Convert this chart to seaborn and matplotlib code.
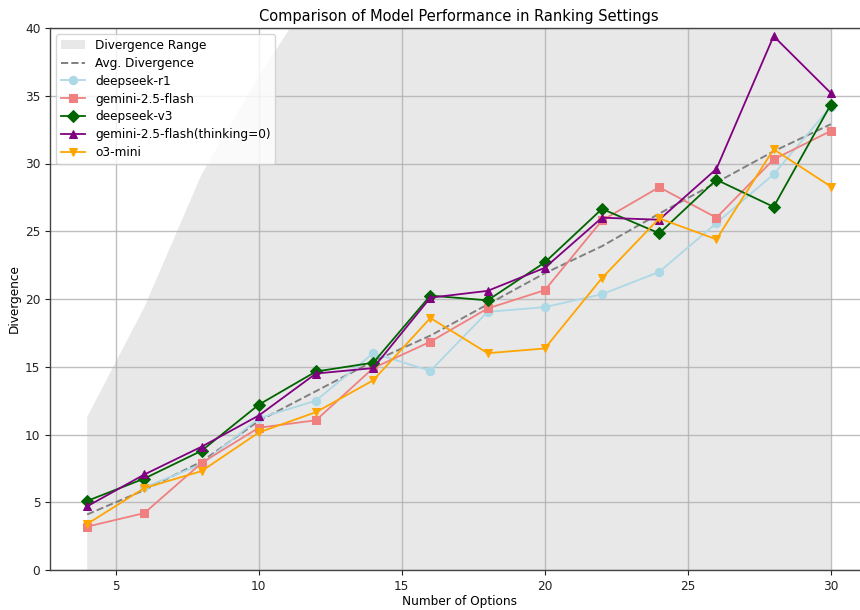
import numpy as np
import pandas as pd
import matplotlib
matplotlib.use("Agg")
import matplotlib.pyplot as plt
import seaborn as sns

# ---- data ----
num_options = [4, 6, 8, 10, 12, 14, 16, 18, 20, 22, 24, 26, 28, 30]
deepseek_r1 = [np.nan, 6.1, 7.8, 11.2, 12.5, 16.0, 14.7, 19.05, 19.4, 20.35, 22.0, 25.6, 29.2, 34.2]
gemini_flash = [3.2, 4.2, 7.9, 10.5, 11.05, 14.9, 16.85, 19.3, 20.65, 25.8, 28.25, 26.0, 30.3, 32.4]
deepseek_v3 = [5.1, 6.75, 8.8, 12.2, 14.65, 15.3, 20.25, 19.9, 22.7, 26.65, 24.85, 28.8, 26.8, 34.35]
gemini_flash_t0 = [4.7, 7.05, 9.1, 11.4, 14.5, 14.9, 20.1, 20.6, 22.3, 26.0, 25.85, 29.6, 39.4, 35.2]
o3_mini = [3.4, 6.05, 7.3, 10.15, 11.65, 14.0, 18.6, 16.0, 16.35, 21.55, 25.95, 24.4, 31.05, 28.3]
avg_divergence = [4.1, 5.9, 8.0, 11.0, 13.2, 15.4, 17.3, 19.6, 21.9, 23.9, 26.3, 28.6, 30.9, 32.9]
range_upper = [11.3, 19.4, 29.2, 36.4, 43.0, 48.5, 54.0, 58.5, 63.0, 68.0, 72.5, 77.0, 82.0, 86.0]
range_lower = [0, 0, 0, 0, 0, 0, 0, 0, 0, 0, 0, 0, 0, 0]

model_names = ["deepseek-r1", "gemini-2.5-flash", "deepseek-v3",
               "gemini-2.5-flash(thinking=0)", "o3-mini"]
model_values = [deepseek_r1, gemini_flash, deepseek_v3, gemini_flash_t0, o3_mini]
model_colors = ["lightblue", "lightcoral", "darkgreen", "purple", "orange"]
model_markers = ["o", "s", "D", "^", "v"]

df = pd.DataFrame({"x": num_options})
for n, v in zip(model_names, model_values):
    df[n] = v

plt.rcParams["font.family"] = ["DejaVu Sans"]
plt.rcParams["font.size"] = 8.75

fig = plt.figure(figsize=(8.6, 6.1), dpi=100)
ax = fig.add_axes([50 / 860, 40 / 610, 818 / 860, 542 / 610])

ax.fill_between(num_options, range_lower, range_upper, color="lightgray",
                alpha=0.5, linewidth=0, label="Divergence Range")
sns.lineplot(x=num_options, y=avg_divergence, ax=ax, color="gray",
             linestyle="--", linewidth=1.4, label="Avg. Divergence")

for n, v, c, m in zip(model_names, model_values, model_colors, model_markers):
    sub = df[["x", n]].dropna()
    sns.lineplot(x=sub["x"].values, y=sub[n].values, ax=ax, color=c, marker=m,
                 markersize=6, markeredgecolor=c, linewidth=1.3, label=n)

ax.set_xlim(2.7, 31.3)
ax.set_ylim(0, 40)
ax.set_xticks([5, 10, 15, 20, 25, 30])
ax.set_yticks([0, 5, 10, 15, 20, 25, 30, 35, 40])
ax.grid(True, color="#b0b0b0", linewidth=1.0, alpha=0.8)
ax.set_xlabel("Number of Options", fontsize=8.75, labelpad=2)
ax.set_ylabel("Divergence", fontsize=8.75, labelpad=3)
ax.set_title("Comparison of Model Performance in Ranking Settings", fontsize=10.5, pad=5)
for s in ax.spines.values():
    s.set_color("#444444")
    s.set_linewidth(1.0)
ax.tick_params(labelsize=8.75, colors="#222222")
ax.legend(loc="upper left", fontsize=8.75, framealpha=0.8, labelspacing=0.4)

fig.savefig("out.png", dpi=100)
